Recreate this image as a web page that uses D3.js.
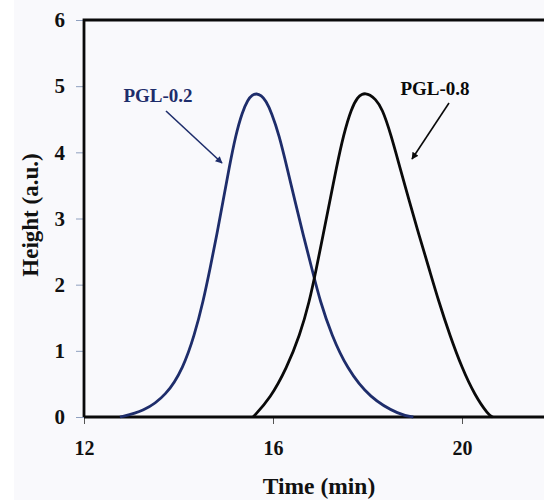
<!DOCTYPE html>
<html>
<head>
<meta charset="utf-8">
<script src="https://cdn.jsdelivr.net/npm/d3@7/dist/d3.min.js"></script>
<style>
  html, body { margin: 0; padding: 0; background: #ffffff; }
  svg { display: block; }
  text { font-family: "Liberation Serif", "Times New Roman", serif; font-weight: bold; }
</style>
</head>
<body>
<svg id="chart" width="544" height="500"></svg>
<script>
// ---- data ----
const xTicks = [12, 16, 20];
const yTicks = [0, 1, 2, 3, 4, 5, 6];
const xLabel = "Time (min)";
const yLabel = "Height (a.u.)";

const pgl02Time   = [12.76, 13.26, 13.75, 14.10, 14.34, 14.52, 14.67, 14.81, 14.94, 15.07, 15.21, 15.35, 15.47, 15.56, 15.65, 15.75, 15.85, 15.97, 16.13, 16.30, 16.47, 16.64, 16.82, 17.00, 17.24, 17.56, 18.05, 18.69, 18.97];
const pgl02Height = [0.00,  0.08,  0.33,  0.74,  1.24,  1.74,  2.25,  2.75,  3.25,  3.76,  4.26,  4.61,  4.80,  4.87,  4.89,  4.86,  4.78,  4.60,  4.26,  3.76,  3.25,  2.75,  2.25,  1.74,  1.24,  0.74,  0.28,  0.03,  0.00];

const pgl08Time   = [15.58, 15.94, 16.29, 16.57, 16.77, 16.92, 17.06, 17.20, 17.34, 17.49, 17.66, 17.80, 17.88, 17.96, 18.05, 18.16, 18.31, 18.50, 18.69, 18.89, 19.09, 19.30, 19.51, 19.74, 20.00, 20.27, 20.56, 20.65];
const pgl08Height = [0.00,  0.28,  0.74,  1.24,  1.74,  2.25,  2.75,  3.25,  3.76,  4.26,  4.67,  4.84,  4.88,  4.89,  4.87,  4.81,  4.67,  4.26,  3.76,  3.25,  2.75,  2.25,  1.74,  1.24,  0.74,  0.33,  0.03,  0.00];

const seriesNames = ["PGL-0.2", "PGL-0.8"];
const seriesColors = ["#1e2d6b", "#0a0a0a"];

// ---- layout ----
const svg = d3.select("#chart");
const x = d3.scaleLinear().domain([12, 20]).range([84, 462]);
const y = d3.scaleLinear().domain([0, 6]).range([417, 20]);

svg.append("rect").attr("x", 14).attr("y", 0).attr("width", 530).attr("height", 500).attr("fill", "#f9f9fc");

// y ticks
const yAxis = d3.axisLeft(y).tickValues(yTicks).tickSize(8).tickPadding(11).tickFormat(d3.format("d"));
const gy = svg.append("g").attr("transform", `translate(${x(12)},0)`).call(yAxis);
gy.select(".domain").remove();
gy.selectAll(".tick line").attr("stroke", "#8fa0bf").attr("stroke-width", 1);
gy.selectAll(".tick text").attr("font-size", 21).attr("fill", "#111").attr("font-family", "Liberation Serif, serif").attr("font-weight", "bold");

// x ticks
const xAxis = d3.axisBottom(x).tickValues(xTicks).tickSize(7).tickPadding(17).tickFormat(d3.format("d"));
const gx = svg.append("g").attr("transform", `translate(0,${y(0)})`).call(xAxis);
gx.select(".domain").remove();
gx.selectAll(".tick line").attr("stroke", "#555").attr("stroke-width", 1);
gx.selectAll(".tick text").attr("font-size", 20).attr("fill", "#111").attr("font-family", "Liberation Serif, serif").attr("font-weight", "bold");

// frame (box extends beyond right edge)
svg.append("path")
  .attr("d", `M${x(12)},${y(0)} L${x(12)},${y(6)} L${x(24)},${y(6)} M${x(12)},${y(0)} L${x(24)},${y(0)}`)
  .attr("fill", "none").attr("stroke", "#0a0a0a").attr("stroke-width", 2.8);

// curves
const line = d3.line().x(d => x(d[0])).y(d => y(d[1])).curve(d3.curveBasis);
const series = [
  d3.zip(pgl02Time, pgl02Height),
  d3.zip(pgl08Time, pgl08Height)
];
series.forEach((s, i) => {
  svg.append("path").datum(s).attr("d", line)
    .attr("fill", "none").attr("stroke", seriesColors[i]).attr("stroke-width", 2.8)
    .attr("stroke-linejoin", "round");
});

// arrowheads
const defs = svg.append("defs");
seriesColors.forEach((c, i) => {
  defs.append("marker").attr("id", "arr" + i).attr("viewBox", "0 0 10 10")
    .attr("refX", 9).attr("refY", 5).attr("markerWidth", 9).attr("markerHeight", 7)
    .attr("markerUnits", "userSpaceOnUse").attr("orient", "auto")
    .append("path").attr("d", "M0,0 L10,5 L0,10 Z").attr("fill", c);
});

// annotations
const ann = [
  { name: seriesNames[0], tx: 158, ty: 102, x1: 166, y1: 111, x2: 222, y2: 163 },
  { name: seriesNames[1], tx: 435, ty: 95,  x1: 449, y1: 103, x2: 412, y2: 159 }
];
ann.forEach((a, i) => {
  svg.append("text").attr("x", a.tx).attr("y", a.ty).attr("text-anchor", "middle")
    .attr("font-size", 19).attr("fill", seriesColors[i]).text(a.name);
  svg.append("line").attr("x1", a.x1).attr("y1", a.y1).attr("x2", a.x2).attr("y2", a.y2)
    .attr("stroke", seriesColors[i]).attr("stroke-width", 1.6).attr("marker-end", `url(#arr${i})`);
});

// axis titles
svg.append("text").attr("x", 319).attr("y", 494).attr("text-anchor", "middle")
  .attr("font-size", 23.5).attr("fill", "#111").text(xLabel);
svg.append("text").attr("transform", "translate(38,215) rotate(-90)").attr("text-anchor", "middle")
  .attr("font-size", 23).attr("fill", "#111").text(yLabel);
</script>
</body>
</html>
